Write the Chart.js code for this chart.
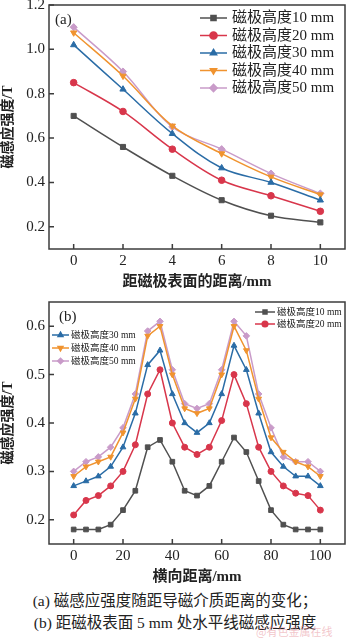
<!DOCTYPE html>
<html><head><meta charset="utf-8">
<script src="https://cdn.jsdelivr.net/npm/chart.js@4/dist/chart.umd.min.js"></script>
<style>
html,body{margin:0;padding:0;background:#fff;width:350px;height:639px;overflow:hidden;}
#wa{position:absolute;left:0;top:0;width:350px;height:295px;}
#wb{position:absolute;left:0;top:295px;width:350px;height:295px;}
.cap{position:absolute;left:0;width:350px;text-align:center;font-family:"Liberation Serif","Noto Sans CJK SC",serif;font-size:15.5px;color:#222;white-space:nowrap;line-height:20px;}
</style></head><body>
<div id="wa"><canvas id="ca"></canvas></div>
<div id="wb"><canvas id="cb"></canvas></div>
<div class="cap" style="top:591px">(a) 磁感应强度随距导磁介质距离的变化；</div>
<div class="cap" style="top:613px">(b) 距磁极表面 5 mm 处水平线磁感应强度</div>
<div style="position:absolute;left:256px;top:625px;font-size:11px;line-height:13px;color:rgba(230,140,150,0.5);font-family:'Noto Sans CJK SC'">@有色金属在线</div>
<script>
// ---------- data ----------
const seriesNames = ['磁极高度10 mm','磁极高度20 mm','磁极高度30 mm','磁极高度40 mm','磁极高度50 mm'];
const seriesColors = ['#505050','#d8364b','#2a6ca6','#f0932f','#c99bc9'];
const seriesMarkers = ['rect','circle','triangle','triangle','rectRot'];
const seriesRotation = [0,0,0,180,0];

// chart (a)
const distA = [0,2,4,6,8,10];
const a10 = [0.70,0.56,0.43,0.32,0.25,0.22];
const a20 = [0.85,0.72,0.55,0.41,0.34,0.27];
const a30 = [1.02,0.82,0.62,0.465,0.40,0.32];
const a40 = [1.075,0.88,0.655,0.53,0.425,0.345];
const a50 = [1.10,0.90,0.65,0.55,0.44,0.35];
const xTicksA = [0,2,4,6,8,10];
const yTicksA = [0.2,0.4,0.6,0.8,1.0,1.2];

// chart (b)
const posB = [0,5,10,15,20,25,30,35,40,45,50,55,60,65,70,75,80,85,90,95,100];
const b10 = [0.18,0.18,0.18,0.19,0.22,0.26,0.35,0.365,0.32,0.26,0.25,0.27,0.32,0.37,0.34,0.28,0.22,0.19,0.18,0.18,0.18];
const b20 = [0.21,0.24,0.25,0.27,0.30,0.355,0.46,0.51,0.40,0.35,0.335,0.35,0.405,0.50,0.44,0.35,0.30,0.27,0.255,0.25,0.22];
const b30 = [0.27,0.28,0.29,0.31,0.35,0.42,0.52,0.55,0.46,0.40,0.38,0.40,0.46,0.56,0.51,0.42,0.34,0.31,0.29,0.29,0.27];
const b40 = [0.29,0.31,0.32,0.33,0.38,0.45,0.58,0.60,0.50,0.43,0.42,0.43,0.50,0.60,0.55,0.45,0.37,0.34,0.32,0.31,0.29];
const b50 = [0.30,0.32,0.33,0.35,0.39,0.46,0.59,0.61,0.51,0.44,0.43,0.44,0.51,0.61,0.58,0.46,0.39,0.33,0.32,0.32,0.30];
const xTicksB = [0,20,40,60,80,100];
const yTicksB = [0.2,0.3,0.4,0.5,0.6];

// ---------- helpers ----------
const FONT = '"Liberation Serif","Noto Sans CJK SC",serif';
const TXT = '#222';
const FRAME = '#3c3c3c';

function mkSets(xs, arrs, tension, r) {
  return arrs.map((ys, i) => ({
    label: seriesNames[i],
    data: xs.map((x, k) => ({x: x, y: ys[k]})),
    borderColor: seriesColors[i],
    backgroundColor: seriesColors[i],
    borderWidth: 1.5,
    pointStyle: seriesMarkers[i],
    pointRotation: seriesRotation[i],
    pointRadius: seriesMarkers[i] === 'circle' ? r - 0.3 : r,
    pointBorderWidth: 1,
    tension: tension,
    fill: false
  }));
}

const framePlugin = {
  id: 'frameTicks',
  afterDatasetsDraw(chart) {
    const {ctx, chartArea: a, scales} = chart;
    ctx.save();
    ctx.strokeStyle = FRAME;
    ctx.lineWidth = 1.5;
    ctx.strokeRect(a.left, a.top, a.right - a.left, a.bottom - a.top);
    ctx.beginPath();
    scales.x.ticks.forEach(t => {
      const px = scales.x.getPixelForValue(t.value);
      ctx.moveTo(px, a.bottom); ctx.lineTo(px, a.bottom - 5);
    });
    scales.y.ticks.forEach(t => {
      const py = scales.y.getPixelForValue(t.value);
      ctx.moveTo(a.left, py); ctx.lineTo(a.left + 5, py);
    });
    ctx.stroke();
    ctx.restore();
  }
};

const legendPlugin = {
  id: 'inLegend',
  afterDraw(chart, args, opts) {
    const ctx = chart.ctx;
    ctx.save();
    (opts.items || []).forEach(it => {
      const ds = chart.data.datasets[it.i];
      ctx.strokeStyle = ds.borderColor;
      ctx.lineWidth = 1.5;
      ctx.beginPath(); ctx.moveTo(it.x1, it.y); ctx.lineTo(it.x2, it.y); ctx.stroke();
      ctx.fillStyle = ds.backgroundColor;
      Chart.helpers.drawPoint(ctx, {
        pointStyle: ds.pointStyle, rotation: ds.pointRotation,
        radius: opts.r, borderWidth: 1
      }, (it.x1 + it.x2) / 2, it.y);
      ctx.fillStyle = TXT;
      ctx.font = opts.font;
      ctx.textBaseline = 'middle';
      ctx.textAlign = 'left';
      ctx.fillText(ds.label, it.tx, it.y + 0.5);
    });
    if (opts.panel) {
      ctx.font = '15px ' + FONT;
      ctx.fillStyle = TXT;
      ctx.textBaseline = 'middle';
      ctx.fillText(opts.panel.text, opts.panel.x, opts.panel.y);
    }
    ctx.restore();
  }
};

function scalesFor(xmin, xmax, xTicks, ymin, ymax, yTicks, xTitle, yTitle, ydec) {
  return {
    x: {
      type: 'linear', min: xmin, max: xmax,
      afterBuildTicks: s => { s.ticks = xTicks.map(v => ({value: v})); },
      ticks: {font: {family: FONT, size: 15}, color: TXT, padding: 3, maxRotation: 0, autoSkip: false,
              callback: v => String(v)},
      grid: {display: false, drawTicks: false},
      border: {display: false},
      title: {display: true, text: xTitle, color: TXT, font: {family: FONT, size: 15, weight: 'bold'},
              padding: {top: 0, bottom: 4}},
      afterFit: s => { s.height = 46; s.paddingLeft = 0; s.paddingRight = 0; }
    },
    y: {
      type: 'linear', min: ymin, max: ymax,
      afterBuildTicks: s => { s.ticks = yTicks.map(v => ({value: v})); },
      ticks: {font: {family: FONT, size: 15}, color: TXT, padding: 4,
              callback: v => Number(v).toFixed(ydec)},
      grid: {display: false, drawTicks: false},
      border: {display: false},
      title: {display: true, text: yTitle, color: TXT, font: {family: FONT, size: 14, weight: 'bold'},
              padding: {top: 0, bottom: 0}},
      afterFit: s => { s.width = 49; s.paddingTop = 0; s.paddingBottom = 0; }
    }
  };
}

// ---------- chart (a) ----------
new Chart(document.getElementById('ca'), {
  type: 'line',
  data: {datasets: mkSets(distA, [a10, a20, a30, a40, a50], 0.35, 3.6)},
  options: {
    responsive: true, maintainAspectRatio: false, animation: false, devicePixelRatio: 1,
    layout: {padding: {top: 5, right: 1, left: 0, bottom: 0}},
    plugins: {
      legend: {display: false}, tooltip: {enabled: false},
      inLegend: {
        font: '15px ' + FONT, r: 3.6,
        items: [
          {i: 0, x1: 200, x2: 227, tx: 232, y: 18},
          {i: 1, x1: 200, x2: 227, tx: 232, y: 35.5},
          {i: 2, x1: 200, x2: 227, tx: 232, y: 53},
          {i: 3, x1: 200, x2: 227, tx: 232, y: 70.5},
          {i: 4, x1: 200, x2: 227, tx: 232, y: 88}
        ],
        panel: {text: '(a)', x: 55, y: 20}
      }
    },
    scales: scalesFor(-1, 11, xTicksA, 0.1, 1.2, yTicksA, '距磁极表面的距离/mm', '磁感应强度/T', 1)
  },
  plugins: [framePlugin, legendPlugin]
});

// ---------- chart (b) ----------
new Chart(document.getElementById('cb'), {
  type: 'line',
  data: {datasets: mkSets(posB, [b10, b20, b30, b40, b50], 0, 3.3)},
  options: {
    responsive: true, maintainAspectRatio: false, animation: false, devicePixelRatio: 1,
    layout: {padding: {top: 7, right: 1, left: 0, bottom: 0}},
    plugins: {
      legend: {display: false}, tooltip: {enabled: false},
      inLegend: {
        font: '9.5px ' + FONT, r: 2.8,
        items: [
          {i: 0, x1: 255, x2: 275, tx: 277, y: 17},
          {i: 1, x1: 255, x2: 275, tx: 277, y: 29},
          {i: 2, x1: 52, x2: 69, tx: 71, y: 40},
          {i: 3, x1: 52, x2: 69, tx: 71, y: 53},
          {i: 4, x1: 52, x2: 69, tx: 71, y: 66}
        ],
        panel: {text: '(b)', x: 59, y: 22}
      }
    },
    scales: scalesFor(-10, 110, xTicksB, 0.15, 0.65, yTicksB, '横向距离/mm', '磁感应强度/T', 1)
  },
  plugins: [framePlugin, legendPlugin]
});
</script>
</body></html>
